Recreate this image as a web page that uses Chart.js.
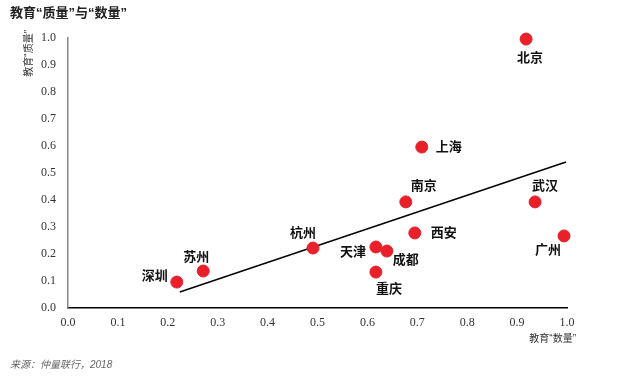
<!DOCTYPE html>
<html><head><meta charset="utf-8">
<script src="https://cdn.jsdelivr.net/npm/chart.js@4/dist/chart.umd.min.js"></script>
<style>html,body{margin:0;padding:0;background:#fff}#wrap{width:624px;height:383px;position:relative}</style>
</head><body><div id="wrap"><canvas id="c" width="624" height="383"></canvas></div>
<script>
const cities = ["北京","上海","南京","武汉","西安","广州","天津","成都","重庆","杭州","苏州","深圳"];
const quantity = [0.918,0.709,0.677,0.936,0.695,0.994,0.617,0.639,0.617,0.491,0.271,0.218];
const quality  = [0.996,0.596,0.393,0.393,0.278,0.267,0.226,0.211,0.133,0.222,0.137,0.096];
const trendX = [0.224, 0.998];
const trendY = [0.059, 0.541];
const tickValues = [0,0.1,0.2,0.3,0.4,0.5,0.6,0.7,0.8,0.9,1.0];

// label placement (style only)
const labelPlace = {
  "北京":[4,19,"center"], "上海":[14,0,"left"], "南京":[18,-15,"center"], "武汉":[10,-15,"center"],
  "西安":[16,0,"left"], "广州":[-16,15,"center"], "天津":[-10,5,"right"], "成都":[6,9,"left"],
  "重庆":[13,17,"center"], "杭州":[-10,-15,"center"], "苏州":[-7,-14,"center"], "深圳":[-9,-6,"right"]
};

const FONT = '"Liberation Sans", "Noto Sans CJK SC"';

const labelPlugin = {
  id:'labels',
  afterDatasetsDraw(chart){
    const ctx = chart.ctx;
    const meta = chart.getDatasetMeta(0);
    ctx.save();
    ctx.font = 'bold 13px ' + FONT;
    ctx.fillStyle = '#111';
    ctx.textBaseline = 'middle';
    meta.data.forEach((el,i)=>{
      const p = labelPlace[cities[i]];
      ctx.textAlign = p[2];
      ctx.fillText(cities[i], el.x + p[0], el.y + p[1]);
    });
    ctx.restore();
  },
  afterDraw(chart){
    const ctx = chart.ctx;
    ctx.save();
    ctx.fillStyle = '#222';
    ctx.font = 'bold 13px ' + FONT;
    ctx.textAlign='left'; ctx.textBaseline='middle';
    ctx.fillText('教育“质量”与“数量”', 10, 13);
    ctx.font = '10px ' + FONT;
    ctx.fillStyle = '#333';
    ctx.textAlign='right';
    ctx.fillText('教育“数量”', 576, 339);
    ctx.save();
    ctx.translate(29, 30);
    ctx.rotate(-Math.PI/2);
    ctx.textAlign='right';
    ctx.fillText('教育“质量”', 0, 0);
    ctx.restore();
    ctx.font = 'italic 10px ' + FONT;
    ctx.fillStyle = '#666';
    ctx.textAlign='left';
    ctx.fillText('来源：仲量联行，2018', 10, 365);
    ctx.restore();
  }
};

new Chart(document.getElementById('c'), {
  type:'scatter',
  data:{
    datasets:[
      {data: quantity.map((x,i)=>({x, y: quality[i]})), backgroundColor:'#e8202a', borderColor:'#e8202a', pointRadius:6, pointHoverRadius:6, clip:false},
      {data: trendX.map((x,i)=>({x, y: trendY[i]})), showLine:true, borderColor:'#000', borderWidth:1.5, pointRadius:0, fill:false, clip:false}
    ]
  },
  options:{
    responsive:false, animation:false,
    layout:{padding:{top:38,right:57,left:0,bottom:0}},
    plugins:{legend:{display:false}, tooltip:{enabled:false}},
    scales:{
      x:{type:'linear', min:0, max:1,
        afterBuildTicks(s){ s.ticks = tickValues.map(v=>({value:v})); },
        afterFit(s){ s.height = 75; },
        grid:{display:false, drawTicks:false},
        border:{color:'#000', width:1.5},
        ticks:{padding:8, color:'#333', font:{family:'"Liberation Serif"', size:12}, callback:v=>v.toFixed(1), maxRotation:0}
      },
      y:{type:'linear', min:0, max:1,
        afterBuildTicks(s){ s.ticks = tickValues.map(v=>({value:v})); },
        afterFit(s){ s.width = 68; },
        grid:{display:false, drawTicks:false},
        border:{color:'#888', width:1.5},
        ticks:{padding:12, color:'#333', font:{family:'"Liberation Serif"', size:12}, callback:v=>v.toFixed(1)}
      }
    }
  },
  plugins:[labelPlugin]
});
</script></body></html>
